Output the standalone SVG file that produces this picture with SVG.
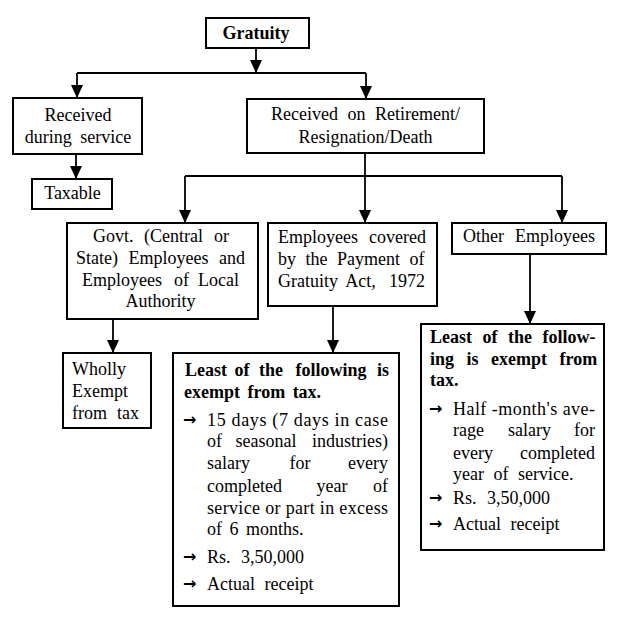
<svg xmlns="http://www.w3.org/2000/svg" width="620" height="625" viewBox="0 0 620 625">
<style>
.box{fill:#fff;stroke:#000;stroke-width:2}
.t{font-family:"Liberation Serif","Times New Roman",serif;font-size:18px;fill:#000}
.b{font-weight:bold}
.m{text-anchor:middle}
.e{text-anchor:end}
.conn{stroke:#000;stroke-width:1.8;fill:none}
.arr{font-family:"DejaVu Sans","Liberation Sans",sans-serif;font-size:16px;font-weight:bold;fill:#000}
</style>
<defs>
<marker id="ah" markerUnits="userSpaceOnUse" markerWidth="14" markerHeight="14" viewBox="0 0 14 14" refX="13" refY="7" orient="auto">
<path d="M0,1 L13,7 L0,13 Z" fill="#000"/>
</marker>
</defs>
<rect width="620" height="625" fill="#fff"/>
<g id="connectors">
<path class="conn" d="M256,48 V73" marker-end="url(#ah)"/>
<path class="conn" d="M77,73 H366"/>
<path class="conn" d="M77,73 V98" marker-end="url(#ah)"/>
<path class="conn" d="M366,73 V99" marker-end="url(#ah)"/>
<path class="conn" d="M76,154 V179" marker-end="url(#ah)"/>
<path class="conn" d="M365,153 V176"/>
<path class="conn" d="M185,176 H562"/>
<path class="conn" d="M185,176 V223" marker-end="url(#ah)"/>
<path class="conn" d="M365,176 V223" marker-end="url(#ah)"/>
<path class="conn" d="M562,176 V223" marker-end="url(#ah)"/>
<path class="conn" d="M113,319 V353" marker-end="url(#ah)"/>
<path class="conn" d="M333,306 V353" marker-end="url(#ah)"/>
<path class="conn" d="M530,254 V324" marker-end="url(#ah)"/>
</g>
<g id="gratuity">
<rect class="box" x="206" y="18" width="103" height="30"/>
<text class="t b m" x="256" y="39">Gratuity</text>
</g>
<g id="during-service">
<rect class="box" x="13" y="98" width="129" height="56"/>
<text class="t m" x="78" y="121">Received</text>
<text class="t m" x="78" y="143" word-spacing="4">during service</text>
</g>
<g id="taxable">
<rect class="box" x="32" y="179" width="80" height="30"/>
<text class="t m" x="72.5" y="199">Taxable</text>
</g>
<g id="retirement">
<rect class="box" x="247" y="99" width="237" height="54"/>
<text class="t" x="271" y="120">Received</text>
<text class="t m" x="356.5" y="120">on</text>
<text class="t e" x="460" y="120">Retirement/</text>
<text class="t m" x="365.5" y="143">Resignation/Death</text>
</g>
<g id="govt">
<rect class="box" x="67" y="223" width="191" height="96"/>
<text class="t" x="93" y="242">Govt.</text>
<text class="t m" x="173.5" y="242">(Central</text>
<text class="t e" x="229" y="242">or</text>
<text class="t" x="76" y="264">State)</text>
<text class="t m" x="168.5" y="264">Employees</text>
<text class="t e" x="245" y="264">and</text>
<text class="t" x="82" y="286">Employees</text>
<text class="t m" x="181.5" y="286">of</text>
<text class="t e" x="239" y="286">Local</text>
<text class="t m" x="160.5" y="307">Authority</text>
</g>
<g id="covered">
<rect class="box" x="268" y="223" width="169" height="83"/>
<text class="t" x="278" y="243">Employees</text>
<text class="t e" x="426" y="243">covered</text>
<text class="t" x="278" y="265" word-spacing="5">by the Payment of</text>
<text class="t" x="278" y="287">Gratuity</text>
<text class="t m" x="360.5" y="287">Act,</text>
<text class="t e" x="425" y="287">1972</text>
</g>
<g id="other">
<rect class="box" x="452" y="223" width="154" height="31"/>
<text class="t" x="463" y="242">Other</text>
<text class="t e" x="595" y="242">Employees</text>
</g>
<g id="wholly-exempt">
<rect class="box" x="63" y="353" width="88" height="75"/>
<text class="t" x="72" y="375">Wholly</text>
<text class="t" x="72" y="397">Exempt</text>
<text class="t" x="72" y="419">from</text>
<text class="t e" x="139" y="419">tax</text>
</g>
<g id="covered-exempt">
<rect class="box" x="173" y="353" width="226" height="253"/>
<text class="t b" x="185" y="376">Least</text>
<text class="t b m" x="242" y="376">of</text>
<text class="t b m" x="271" y="376">the</text>
<text class="t b m" x="331" y="376">following</text>
<text class="t b e" x="389" y="376">is</text>
<text class="t b" x="184" y="398" word-spacing="3">exempt from tax.</text>
<text class="arr" x="183" y="425">→</text>
<text class="t" x="207" y="426" textLength="181" lengthAdjust="spacing">15 days (7 days in case</text>
<text class="t" x="207" y="447">of</text>
<text class="t m" x="266" y="447">seasonal</text>
<text class="t e" x="388" y="447">industries)</text>
<text class="t" x="207" y="469">salary</text>
<text class="t m" x="300" y="469">for</text>
<text class="t e" x="388" y="469">every</text>
<text class="t" x="207" y="492">completed</text>
<text class="t m" x="332" y="492">year</text>
<text class="t e" x="388" y="492">of</text>
<text class="t" x="207" y="514" textLength="181" lengthAdjust="spacing">service or part in excess</text>
<text class="t" x="207" y="535" word-spacing="3">of 6 months.</text>
<text class="arr" x="183" y="562">→</text>
<text class="t" x="207" y="563" word-spacing="6">Rs. 3,50,000</text>
<text class="arr" x="183" y="589">→</text>
<text class="t" x="207" y="590" word-spacing="5">Actual receipt</text>
</g>
<g id="other-exempt">
<rect class="box" x="421" y="324" width="183" height="226"/>
<text class="t b" x="430" y="343" word-spacing="6">Least of the follow-</text>
<text class="t b" x="430" y="365" word-spacing="8">ing is exempt from</text>
<text class="t b" x="430" y="386">tax.</text>
<text class="arr" x="429" y="414">→</text>
<text class="t" x="453" y="415" textLength="142" lengthAdjust="spacing">Half -month's ave-</text>
<text class="t" x="453" y="436">rage</text>
<text class="t m" x="529.5" y="436">salary</text>
<text class="t e" x="595" y="436">for</text>
<text class="t" x="453" y="459">every</text>
<text class="t e" x="595" y="459">completed</text>
<text class="t" x="453" y="480" word-spacing="5">year of service.</text>
<text class="arr" x="429" y="503">→</text>
<text class="t" x="453" y="504" word-spacing="6">Rs. 3,50,000</text>
<text class="arr" x="429" y="529">→</text>
<text class="t" x="453" y="530" word-spacing="5">Actual receipt</text>
</g>
</svg>
